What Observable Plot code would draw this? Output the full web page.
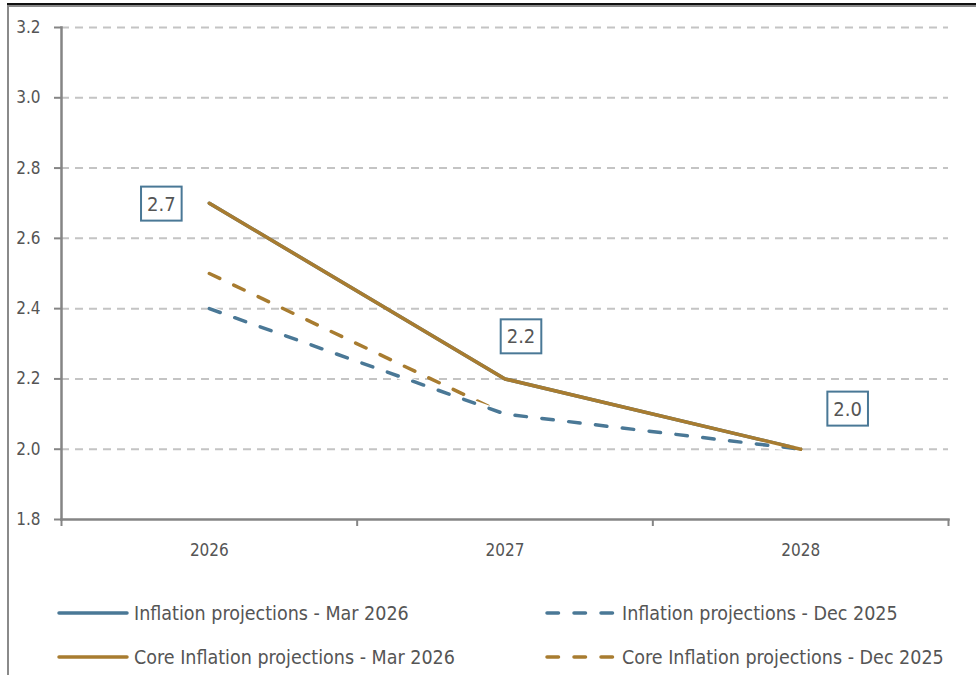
<!DOCTYPE html>
<html>
<head>
<meta charset="utf-8">
<script src="https://cdn.jsdelivr.net/npm/d3@7"></script>
<script src="https://cdn.jsdelivr.net/npm/@observablehq/plot@0.6"></script>
<style>
  html, body { margin: 0; padding: 0; background: #fff; }
  #wrap { position: relative; width: 976px; height: 675px; overflow: hidden; font-family: "DejaVu Sans Condensed", "DejaVu Sans", sans-serif; font-stretch: condensed; }
  #chart { position: absolute; left: 0; top: 0; }
  .bt { position: absolute; left: 7px; top: 3px; width: 969px; height: 2px; background: #111; }
  .bt2 { position: absolute; left: 7px; top: 5px; width: 969px; height: 2px; background: #8a8a8a; }
  .bl { position: absolute; left: 7px; top: 5px; width: 2px; height: 670px; background: #8a8a8a; }
  .legend { position: absolute; left: 0; top: 0; width: 976px; height: 675px; pointer-events: none; }
  .item { position: absolute; display: flex; align-items: center; font-size: 19.5px; color: #555; white-space: nowrap; }
  .item svg { margin-right: 5px; }
</style>
</head>
<body>
<div id="wrap">
  <div id="chart"></div>
  <div class="legend" id="legend"></div>
  <div class="bt"></div><div class="bt2"></div><div class="bl"></div>
</div>
<script>
const years = [2026, 2027, 2028];
const inflationMar26 = [2.7, 2.2, 2.0];
const inflationDec25 = [2.4, 2.1, 2.0];
const coreMar26 = [2.7, 2.2, 2.0];
const coreDec25 = [2.5, 2.1, 2.0];
const yTicks = [1.8, 2.0, 2.2, 2.4, 2.6, 2.8, 3.0, 3.2];
const seriesNames = [
  "Inflation projections - Mar 2026",
  "Inflation projections - Dec 2025",
  "Core Inflation projections - Mar 2026",
  "Core Inflation projections - Dec 2025"
];

const BLUE = "#4a7896";
const BROWN = "#a87c30";
const AXIS = "#858585";
const DASH = "11.5,15.5";
const FONT = "'DejaVu Sans Condensed', 'DejaVu Sans', sans-serif";

const toRows = (vals) => years.map((yr, i) => ({year: yr, value: vals[i]}));
const boundaries = years.map(y => y - 0.5).concat([years[years.length - 1] + 0.5]);
const labelRows = toRows(coreMar26);

const lineOpts = {x: "year", y: "value", strokeWidth: 3.5, strokeLinecap: "round", strokeLinejoin: "round"};

const plot = Plot.plot({
  width: 976,
  height: 580,
  marginLeft: 61,
  marginRight: 28,
  marginTop: 27,
  marginBottom: 61,
  style: {fontFamily: FONT, fontStretch: "condensed", background: "transparent"},
  x: {type: "linear", domain: [boundaries[0], boundaries[boundaries.length - 1]]},
  y: {domain: [yTicks[0], yTicks[yTicks.length - 1]]},
  marks: [
    Plot.ruleY(yTicks.slice(1), {stroke: "#c4c4c4", strokeWidth: 2, strokeDasharray: "8,6"}),
    Plot.frame({anchor: "left", stroke: AXIS, strokeWidth: 2.5}),
    Plot.frame({anchor: "bottom", stroke: AXIS, strokeWidth: 2.5}),
    Plot.axisY({ticks: yTicks, tickFormat: d3.format(".1f"), tickSize: 7, tickPadding: 14, fontSize: 17, color: "#555", stroke: AXIS, strokeWidth: 2, label: null}),
    Plot.axisX({ticks: boundaries, tickFormat: () => "", tickSize: 7, stroke: AXIS, strokeWidth: 2, label: null}),
    Plot.axisX({ticks: years, tickFormat: d => String(d), tickSize: 0, tickPadding: 24, fontSize: 17, color: "#555", label: null}),
    Plot.line(toRows(inflationMar26), {...lineOpts, stroke: BLUE}),
    Plot.line(toRows(coreDec25), {...lineOpts, stroke: BROWN, strokeDasharray: DASH}),
    Plot.line(toRows(inflationDec25), {...lineOpts, stroke: "#fff", strokeWidth: 5.5, strokeLinecap: "butt"}),
    Plot.line(toRows(inflationDec25), {...lineOpts, stroke: BLUE, strokeDasharray: DASH}),
    Plot.line(toRows(coreMar26), {...lineOpts, stroke: BROWN}),
    Plot.text(labelRows.slice(0, 1), {x: "year", y: "value", text: d => d3.format(".1f")(d.value), dx: -48, dy: 1, fontSize: 20, fill: "#555", className: "vlabel"}),
    Plot.text(labelRows.slice(1, 2), {x: "year", y: "value", text: d => d3.format(".1f")(d.value), dx: 16, dy: -42, fontSize: 20, fill: "#555", className: "vlabel"}),
    Plot.text(labelRows.slice(2, 3), {x: "year", y: "value", text: d => d3.format(".1f")(d.value), dx: 47, dy: -40, fontSize: 20, fill: "#555", className: "vlabel"})
  ]
});
document.getElementById("chart").appendChild(plot);

// boxes around value labels
d3.select(plot).selectAll("g.vlabel text").each(function() {
  const bb = this.getBBox();
  const padX = 6, padY = 5;
  const parent = this.parentNode;
  const tr = this.getAttribute("transform");
  const r = document.createElementNS("http://www.w3.org/2000/svg", "rect");
  r.setAttribute("x", bb.x - padX);
  r.setAttribute("y", bb.y - padY);
  r.setAttribute("width", bb.width + 2 * padX);
  r.setAttribute("height", bb.height + 2 * padY);
  r.setAttribute("fill", "#fff");
  r.setAttribute("stroke", BLUE);
  r.setAttribute("stroke-width", 2);
  if (tr) r.setAttribute("transform", tr);
  parent.insertBefore(r, this);
});

// legend
const legendItems = [
  {name: seriesNames[0], color: BLUE, dash: null, left: 57, top: 613},
  {name: seriesNames[1], color: BLUE, dash: DASH, left: 545, top: 613},
  {name: seriesNames[2], color: BROWN, dash: null, left: 57, top: 657},
  {name: seriesNames[3], color: BROWN, dash: DASH, left: 545, top: 657}
];
const leg = d3.select("#legend");
legendItems.forEach(it => {
  const div = leg.append("div").attr("class", "item").style("left", it.left + "px").style("top", (it.top - 15) + "px").style("height", "30px");
  const s = div.append("svg").attr("width", 72).attr("height", 10);
  s.append("line").attr("x1", 2).attr("x2", 70).attr("y1", 5).attr("y2", 5)
    .attr("stroke", it.color).attr("stroke-width", 3.5).attr("stroke-linecap", "round")
    .attr("stroke-dasharray", it.dash);
  div.append("span").text(it.name);
});
</script>
</body>
</html>
